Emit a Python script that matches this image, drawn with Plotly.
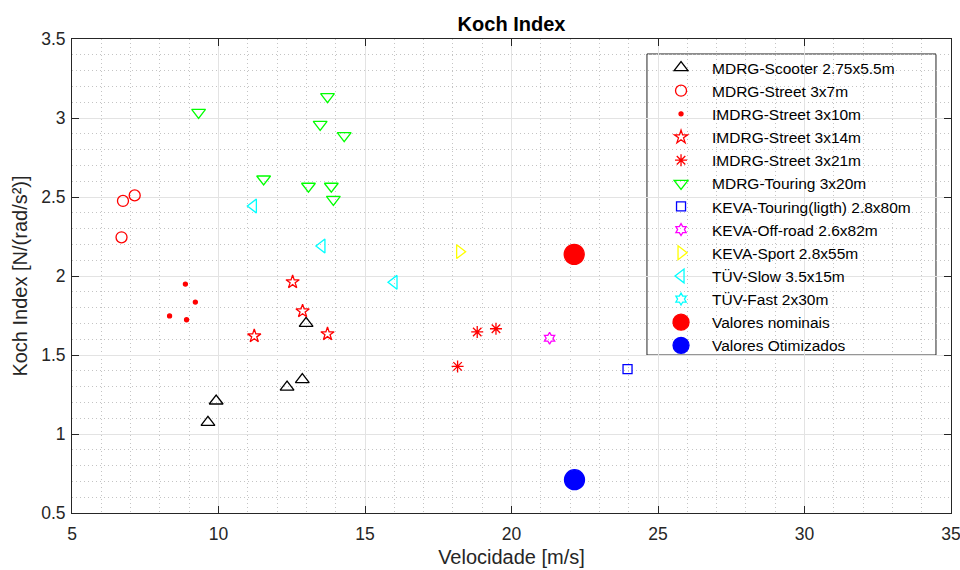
import plotly.graph_objects as go

# Velocity [m/s] and Koch index [N/(rad/s^2)] for each test set
scooter_x = [9.64, 9.92, 12.34, 12.86, 12.99]
scooter_y = [1.074, 1.209, 1.297, 1.344, 1.70]

street7_x = [6.74, 7.14, 6.69]
street7_y = [2.475, 2.51, 2.245]

street10_x = [8.87, 9.21, 8.33, 8.91]
street10_y = [1.949, 1.835, 1.747, 1.723]

street14_x = [12.53, 12.87, 13.72, 11.22]
street14_y = [1.962, 1.778, 1.633, 1.62]

street21_x = [18.83, 19.47, 18.16]
street21_y = [1.646, 1.666, 1.428]

touring_x = [9.32, 13.72, 13.47, 14.29, 11.54, 13.07, 13.85, 13.92]
touring_y = [3.036, 3.135, 2.96, 2.888, 2.614, 2.568, 2.568, 2.485]

keva_touring_x = [23.96]
keva_touring_y = [1.41]

keva_offroad_x = [21.30]
keva_offroad_y = [1.606]

keva_sport_x = [18.23]
keva_sport_y = [2.154]

tuv_slow_x = [15.99, 11.19, 13.53]
tuv_slow_y = [1.96, 2.443, 2.19]

tuv_fast_x = [None]
tuv_fast_y = [None]

nominal_x = [22.14]
nominal_y = [2.137]

optimized_x = [22.15]
optimized_y = [0.711]

series = [
    ("MDRG-Scooter 2.75x5.5m", scooter_x, scooter_y, "triangle-up-open", "#000000", 12),
    ("MDRG-Street 3x7m", street7_x, street7_y, "circle-open", "#ff0000", 11),
    ("IMDRG-Street 3x10m", street10_x, street10_y, "circle", "#ff0000", 4),
    ("IMDRG-Street 3x14m", street14_x, street14_y, "star-open", "#ff0000", 10),
    ("IMDRG-Street 3x21m", street21_x, street21_y, "asterisk-open", "#ff0000", 10),
    ("MDRG-Touring 3x20m", touring_x, touring_y, "triangle-down-open", "#00ff00", 12),
    ("KEVA-Touring(ligth) 2.8x80m", keva_touring_x, keva_touring_y, "square-open", "#0000ff", 9),
    ("KEVA-Off-road 2.6x82m", keva_offroad_x, keva_offroad_y, "hexagram-open", "#ff00ff", 9),
    ("KEVA-Sport 2.8x55m", keva_sport_x, keva_sport_y, "triangle-right-open", "#ffff00", 12),
    ("TÜV-Slow 3.5x15m", tuv_slow_x, tuv_slow_y, "triangle-left-open", "#00ffff", 12),
    ("TÜV-Fast 2x30m", tuv_fast_x, tuv_fast_y, "hexagram-open", "#00ffff", 9),
    ("Valores nominais", nominal_x, nominal_y, "circle", "#ff0000", 20),
    ("Valores Otimizados", optimized_x, optimized_y, "circle", "#0000ff", 20),
]

fig = go.Figure()
for name, xs, ys, sym, col, size in series:
    fig.add_trace(go.Scatter(
        x=xs, y=ys, name=name, mode="markers",
        marker=dict(symbol=sym, color=col, size=size,
                    line=dict(color=col, width=1.3)),
    ))

font = "Liberation Sans, Arial, sans-serif"
axis_common = dict(
    showline=True, linecolor="#262626", linewidth=1, mirror="ticks",
    ticks="inside", ticklen=7, tickcolor="#262626",
    showgrid=True, gridcolor="#e3e3e3", gridwidth=1,
    zeroline=False, ticklabeloverflow="allow", automargin=False,
    tickfont=dict(family=font, size=17.5, color="#262626"),
)
minor_grid = dict(showgrid=True, gridcolor="#c4c4c4", griddash="1px,3px", ticks="")

fig.update_xaxes(
    range=[5, 35], dtick=5, tick0=5, ticklabelstandoff=5,
    minor=dict(dtick=1, **minor_grid),
    title=dict(text="Velocidade [m/s]", font=dict(family=font, size=20, color="#262626"), standoff=6),
    **axis_common,
)
fig.update_yaxes(
    range=[0.5, 3.5], dtick=0.5, tick0=0.5, ticklabelstandoff=2,
    minor=dict(dtick=0.1, **minor_grid),
    title=dict(text="Koch Index [N/(rad/s²)]", font=dict(family=font, size=20, color="#262626"), standoff=8),
    **axis_common,
)

# Legend frame (white panel over the grid, beneath the legend entries)
fig.add_shape(type="rect", xref="paper", yref="paper",
              x0=0.6541, x1=0.9829, y0=0.3333, y1=0.9684,
              line=dict(color="#262626", width=1), fillcolor="white", layer="between")

fig.update_layout(
    width=960, height=570,
    margin=dict(l=72, r=9, t=39, b=57, autoexpand=False),
    plot_bgcolor="white", paper_bgcolor="white",
    title=dict(text="<b>Koch Index</b>", x=0.5, xref="paper", xanchor="center",
               y=1 - 24 / 570, yanchor="middle",
               font=dict(family=font, size=20, color="#000000")),
    legend=dict(x=0.6576, y=0.9747, xanchor="left", yanchor="top",
                bgcolor="rgba(0,0,0,0)", borderwidth=0, itemwidth=52,
                font=dict(family=font, size=15.5, color="#000000")),
    showlegend=True,
)

fig.write_html("out.html")
